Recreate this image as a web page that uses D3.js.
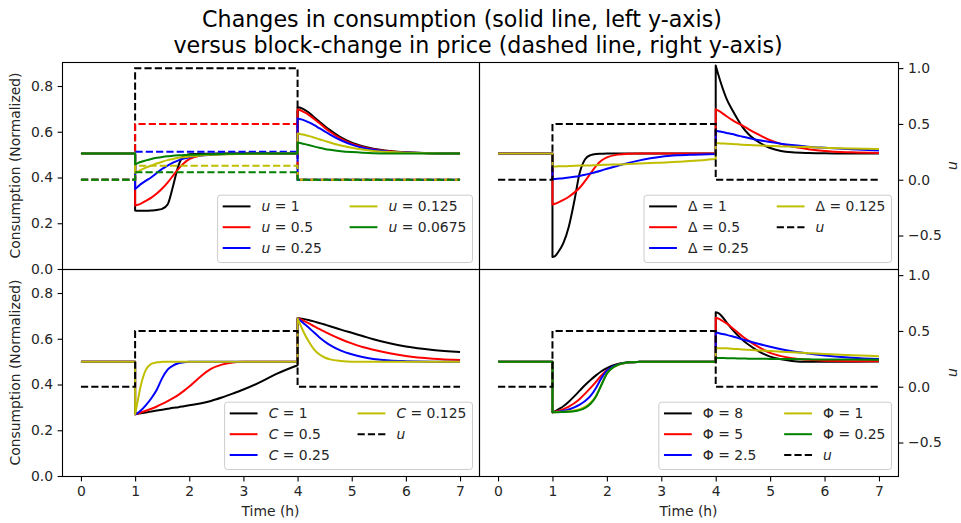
<!DOCTYPE html>
<html>
<head>
<meta charset="utf-8">
<script src="https://cdn.jsdelivr.net/npm/d3@7"></script>
<style>
  body { margin: 0; background: #fff; }
  svg { display: block; font-family: "DejaVu Sans", sans-serif; }
</style>
</head>
<body>
<svg id="fig" width="961" height="523"></svg>
<script>
// ---- time grid (a repeated time marks the jump of the price block) ----
const TIME = [
  0, 1,
  1, 1.05, 1.1, 1.2, 1.3, 1.4, 1.5, 1.6, 1.7, 1.8, 1.9, 2.0, 2.2, 2.4, 2.6, 2.8, 3.0, 3.3, 3.6, 4.0,
  4.0, 4.05, 4.1, 4.2, 4.3, 4.4, 4.5, 4.6, 4.8, 5.0, 5.2, 5.4, 5.7, 6.0, 6.5, 7.0
];

// price block: zero, raised from t=1 to t=4, zero again
const PRICE_TIME  = [0, 1, 1, 4, 4, 7];
const PRICE_BLOCK = [0, 0, 1, 1, 0, 0];

const X_TICKS = [0, 1, 2, 3, 4, 5, 6, 7];
const C_TICKS = [0, 0.2, 0.4, 0.6, 0.8];
const U_TICKS = [-0.5, 0, 0.5, 1.0];

const COLORS = ["#000000", "#ff0000", "#0000ff", "#bfbf00", "#008000"];

// ---- panel 1: size of the price block u ----
const U_LEVELS = [1, 0.5, 0.25, 0.125, 0.0675];
const U_LABELS = ["1", "0.5", "0.25", "0.125", "0.0675"];
const U_CONSUMPTION = [
  [0.505, 0.505,
   0.256, 0.255, 0.255, 0.255, 0.256, 0.258, 0.263, 0.282, 0.362, 0.452, 0.494, 0.502, 0.504, 0.504, 0.505, 0.505, 0.505, 0.505, 0.505, 0.505,
   0.707, 0.705, 0.700, 0.685, 0.665, 0.645, 0.625, 0.607, 0.575, 0.552, 0.537, 0.526, 0.516, 0.510, 0.506, 0.505],
  [0.505, 0.505,
   0.278, 0.281, 0.285, 0.298, 0.312, 0.330, 0.352, 0.378, 0.408, 0.438, 0.462, 0.480, 0.496, 0.501, 0.503, 0.504, 0.505, 0.505, 0.505, 0.505,
   0.697, 0.694, 0.688, 0.675, 0.657, 0.638, 0.618, 0.600, 0.570, 0.548, 0.534, 0.524, 0.515, 0.509, 0.506, 0.505],
  [0.505, 0.505,
   0.350, 0.360, 0.370, 0.386, 0.401, 0.420, 0.438, 0.452, 0.465, 0.475, 0.483, 0.489, 0.496, 0.500, 0.502, 0.503, 0.504, 0.505, 0.505, 0.505,
   0.658, 0.655, 0.652, 0.642, 0.630, 0.616, 0.602, 0.588, 0.563, 0.544, 0.530, 0.521, 0.513, 0.509, 0.506, 0.505],
  [0.505, 0.505,
   0.420, 0.426, 0.432, 0.443, 0.452, 0.461, 0.469, 0.476, 0.481, 0.486, 0.489, 0.492, 0.496, 0.499, 0.501, 0.502, 0.503, 0.504, 0.505, 0.505,
   0.592, 0.590, 0.588, 0.582, 0.575, 0.567, 0.560, 0.553, 0.540, 0.530, 0.522, 0.516, 0.511, 0.508, 0.506, 0.505],
  [0.505, 0.505,
   0.458, 0.463, 0.468, 0.475, 0.481, 0.486, 0.490, 0.493, 0.495, 0.497, 0.498, 0.499, 0.501, 0.502, 0.503, 0.504, 0.504, 0.505, 0.505, 0.505,
   0.553, 0.551, 0.548, 0.542, 0.536, 0.530, 0.525, 0.521, 0.515, 0.511, 0.508, 0.506, 0.505, 0.505, 0.505, 0.505]
];

// ---- panel 2: Delta ----
const DELTA_LABELS = ["1", "0.5", "0.25", "0.125"];
const DELTA_CONSUMPTION = [
  [0.505, 0.505,
   0.052, 0.057, 0.072, 0.113, 0.185, 0.295, 0.420, 0.480, 0.498, 0.503, 0.504, 0.505, 0.505, 0.505, 0.505, 0.505, 0.505, 0.505, 0.505, 0.505,
   0.890, 0.848, 0.810, 0.744, 0.697, 0.656, 0.618, 0.590, 0.553, 0.529, 0.516, 0.510, 0.507, 0.506, 0.505, 0.505],
  [0.505, 0.505,
   0.282, 0.285, 0.290, 0.302, 0.316, 0.334, 0.355, 0.385, 0.418, 0.450, 0.474, 0.488, 0.500, 0.504, 0.505, 0.505, 0.505, 0.505, 0.505, 0.505,
   0.698, 0.692, 0.685, 0.668, 0.652, 0.638, 0.626, 0.612, 0.586, 0.563, 0.547, 0.535, 0.524, 0.516, 0.510, 0.507],
  [0.505, 0.505,
   0.394, 0.394, 0.395, 0.397, 0.400, 0.403, 0.407, 0.412, 0.418, 0.424, 0.431, 0.438, 0.451, 0.464, 0.475, 0.484, 0.491, 0.497, 0.500, 0.503,
   0.605, 0.602, 0.600, 0.595, 0.590, 0.584, 0.578, 0.573, 0.563, 0.555, 0.548, 0.542, 0.535, 0.530, 0.523, 0.518],
  [0.505, 0.505,
   0.448, 0.448, 0.449, 0.449, 0.450, 0.451, 0.452, 0.452, 0.453, 0.454, 0.455, 0.456, 0.457, 0.459, 0.461, 0.463, 0.465, 0.469, 0.473, 0.481,
   0.551, 0.550, 0.549, 0.548, 0.547, 0.545, 0.543, 0.542, 0.540, 0.538, 0.536, 0.535, 0.533, 0.530, 0.527, 0.525]
];
const DELTA_PRICE = 0.5;

// ---- panel 3: C ----
const C_LABELS = ["1", "0.5", "0.25", "0.125"];
const C_CONSUMPTION = [
  [0.500, 0.500,
   0.270, 0.272, 0.274, 0.278, 0.282, 0.286, 0.290, 0.294, 0.298, 0.301, 0.305, 0.309, 0.317, 0.328, 0.343, 0.360, 0.378, 0.409, 0.445, 0.484,
   0.690, 0.689, 0.687, 0.682, 0.676, 0.669, 0.662, 0.655, 0.640, 0.626, 0.612, 0.598, 0.580, 0.566, 0.551, 0.542],
  [0.500, 0.500,
   0.270, 0.273, 0.277, 0.285, 0.294, 0.304, 0.315, 0.327, 0.340, 0.355, 0.372, 0.391, 0.433, 0.468, 0.487, 0.496, 0.499, 0.500, 0.500, 0.500,
   0.690, 0.686, 0.680, 0.668, 0.655, 0.643, 0.631, 0.619, 0.598, 0.580, 0.564, 0.552, 0.537, 0.525, 0.513, 0.507],
  [0.500, 0.500,
   0.270, 0.276, 0.285, 0.310, 0.340, 0.377, 0.428, 0.465, 0.483, 0.493, 0.497, 0.499, 0.500, 0.500, 0.500, 0.500, 0.500, 0.500, 0.500, 0.500,
   0.690, 0.680, 0.670, 0.650, 0.628, 0.607, 0.588, 0.572, 0.548, 0.532, 0.520, 0.512, 0.505, 0.502, 0.500, 0.500],
  [0.500, 0.500,
   0.270, 0.330, 0.390, 0.465, 0.490, 0.497, 0.499, 0.500, 0.500, 0.500, 0.500, 0.500, 0.500, 0.500, 0.500, 0.500, 0.500, 0.500, 0.500, 0.500,
   0.690, 0.662, 0.635, 0.590, 0.555, 0.532, 0.518, 0.510, 0.503, 0.500, 0.500, 0.500, 0.500, 0.500, 0.500, 0.500]
];
const C_PRICE = 0.5;

// ---- panel 4: Phi ----
const PHI_LABELS = ["8", "5", "2.5", "1", "0.25"];
const PHI_CONSUMPTION = [
  [0.500, 0.500,
   0.279, 0.283, 0.290, 0.305, 0.325, 0.348, 0.373, 0.398, 0.420, 0.440, 0.458, 0.472, 0.490, 0.497, 0.499, 0.500, 0.500, 0.500, 0.500, 0.500,
   0.716, 0.712, 0.702, 0.672, 0.642, 0.616, 0.594, 0.575, 0.544, 0.522, 0.510, 0.503, 0.499, 0.499, 0.500, 0.501],
  [0.500, 0.500,
   0.279, 0.281, 0.284, 0.292, 0.303, 0.318, 0.337, 0.360, 0.385, 0.412, 0.440, 0.462, 0.487, 0.496, 0.499, 0.500, 0.500, 0.500, 0.500, 0.500,
   0.692, 0.688, 0.682, 0.667, 0.648, 0.628, 0.609, 0.592, 0.562, 0.538, 0.524, 0.515, 0.508, 0.504, 0.502, 0.502],
  [0.500, 0.500,
   0.279, 0.280, 0.281, 0.285, 0.291, 0.300, 0.312, 0.328, 0.350, 0.385, 0.428, 0.460, 0.487, 0.496, 0.499, 0.500, 0.500, 0.500, 0.500, 0.500,
   0.627, 0.625, 0.622, 0.617, 0.611, 0.604, 0.597, 0.590, 0.577, 0.565, 0.554, 0.545, 0.535, 0.527, 0.517, 0.511],
  [0.500, 0.500,
   0.279, 0.279, 0.280, 0.281, 0.283, 0.286, 0.292, 0.302, 0.320, 0.350, 0.400, 0.448, 0.485, 0.496, 0.499, 0.500, 0.500, 0.500, 0.500, 0.500,
   0.560, 0.559, 0.559, 0.558, 0.556, 0.555, 0.553, 0.552, 0.549, 0.546, 0.543, 0.541, 0.537, 0.533, 0.528, 0.524],
  [0.500, 0.500,
   0.279, 0.279, 0.279, 0.280, 0.281, 0.283, 0.288, 0.298, 0.316, 0.348, 0.398, 0.447, 0.486, 0.497, 0.499, 0.500, 0.500, 0.500, 0.500, 0.500,
   0.516, 0.516, 0.516, 0.515, 0.515, 0.514, 0.514, 0.513, 0.513, 0.512, 0.511, 0.511, 0.510, 0.509, 0.509, 0.508]
];
const PHI_PRICE = 0.5;

// ---- layout ----
const W = 961, H = 523;
const COLS = [[62, 479], [479, 898]];
const ROWS = [[62, 269], [269, 476]];
const X_DOMAIN = [-0.35, 7.35];
const C_DOMAIN = [0, 0.905];
const U_DOMAIN = [-0.80, 1.055];
const FS = 13.9;          // tick / label / legend font size
const LW = 2;             // data line width
const DASH = "7.2,3.1";

const svg = d3.select("#fig");
svg.append("rect").attr("width", W).attr("height", H).attr("fill", "#fff");

// title (two lines)
const title = svg.append("text").attr("font-size", 22.2).attr("fill", "#000").attr("text-anchor", "middle");
title.append("tspan").attr("x", 462).attr("y", 27).text("Changes in consumption (solid line, left y-axis)");
title.append("tspan").attr("x", 478).attr("y", 53).text("versus block-change in price (dashed line, right y-axis)");

// consumption path: smooth runs, vertical jumps where the time repeats
function consumptionPath(times, values, x, y) {
  const runs = [];
  let cur = [];
  times.forEach((t, i) => {
    if (i > 0 && t === times[i - 1]) { runs.push(cur); cur = []; }
    cur.push([t, values[i]]);
  });
  runs.push(cur);
  const gen = d3.line().x(d => x(d[0])).y(d => y(d[1])).curve(d3.curveMonotoneX);
  return runs.map((r, k) => { const p = gen(r); return k === 0 ? p : "L" + p.slice(1); }).join("");
}

function pricePath(level, x, y) {
  const gen = d3.line().x(d => x(d[0])).y(d => y(d[1]));
  return gen(PRICE_TIME.map((t, i) => [t, PRICE_BLOCK[i] * level]));
}

const PANELS = [
  { col: 0, row: 0, symbol: "u", italic: true, labels: U_LABELS, series: U_CONSUMPTION, price: U_LEVELS, perSeriesPrice: true },
  { col: 1, row: 0, symbol: "\u0394", italic: false, labels: DELTA_LABELS, series: DELTA_CONSUMPTION, price: DELTA_PRICE },
  { col: 0, row: 1, symbol: "C", italic: true, labels: C_LABELS, series: C_CONSUMPTION, price: C_PRICE },
  { col: 1, row: 1, symbol: "\u03A6", italic: false, labels: PHI_LABELS, series: PHI_CONSUMPTION, price: PHI_PRICE }
];

PANELS.forEach((p, pi) => {
  const [x0, x1] = COLS[p.col];
  const [y0, y1] = ROWS[p.row];
  const x = d3.scaleLinear().domain(X_DOMAIN).range([x0, x1]);
  const yc = d3.scaleLinear().domain(C_DOMAIN).range([y1, y0]);
  const yu = d3.scaleLinear().domain(U_DOMAIN).range([y1, y0]);

  const clipId = "clip" + pi;
  svg.append("clipPath").attr("id", clipId)
    .append("rect").attr("x", x0).attr("y", y0).attr("width", x1 - x0).attr("height", y1 - y0);
  const plot = svg.append("g").attr("clip-path", `url(#${clipId})`);

  const legendEntries = [];
  p.series.forEach((vals, i) => {
    plot.append("path")
      .attr("d", consumptionPath(TIME, vals, x, yc))
      .attr("fill", "none").attr("stroke", COLORS[i]).attr("stroke-width", LW)
      .attr("stroke-linejoin", "round");
    if (p.perSeriesPrice) {
      plot.append("path")
        .attr("d", pricePath(p.price[i], x, yu))
        .attr("fill", "none").attr("stroke", COLORS[i]).attr("stroke-width", LW)
        .attr("stroke-dasharray", DASH);
    }
    legendEntries.push({ color: COLORS[i], dashed: false, sym: p.symbol, italic: p.italic, value: p.labels[i] });
  });
  if (!p.perSeriesPrice) {
    plot.append("path")
      .attr("d", pricePath(p.price, x, yu))
      .attr("fill", "none").attr("stroke", "#000").attr("stroke-width", LW)
      .attr("stroke-dasharray", DASH);
    legendEntries.push({ color: "#000", dashed: true, sym: "u", italic: true, value: null });
  }

  // frame
  svg.append("rect").attr("x", x0 + 0.5).attr("y", y0 + 0.5)
    .attr("width", x1 - x0).attr("height", y1 - y0)
    .attr("fill", "none").attr("stroke", "#000").attr("stroke-width", 1.1);

  // x axis on bottom row
  if (p.row === 1) {
    const ax = svg.append("g").attr("transform", `translate(0,${y1 + 0.5})`)
      .call(d3.axisBottom(x).tickValues(X_TICKS).tickSize(4.9).tickPadding(4.6).tickFormat(d3.format("d")));
    ax.select(".domain").remove();
    ax.selectAll("text").attr("font-size", FS).attr("font-family", "DejaVu Sans").attr("fill", "#262626");
    ax.selectAll("line").attr("stroke", "#000").attr("stroke-width", 1.1);
    svg.append("text").attr("x", (x0 + x1) / 2).attr("y", 515.5).attr("text-anchor", "middle")
      .attr("font-size", FS).attr("fill", "#262626").text("Time (h)");
  }

  if (p.col === 0) {
    const ay = svg.append("g").attr("transform", `translate(${x0 + 0.5},0)`)
      .call(d3.axisLeft(yc).tickValues(C_TICKS).tickSize(4.9).tickPadding(4.6).tickFormat(d3.format(".1f")));
    ay.select(".domain").remove();
    ay.selectAll("text").attr("font-size", FS).attr("font-family", "DejaVu Sans").attr("fill", "#262626");
    ay.selectAll("line").attr("stroke", "#000").attr("stroke-width", 1.1);
    svg.append("text")
      .attr("transform", `translate(20,${(y0 + y1) / 2}) rotate(-90)`)
      .attr("text-anchor", "middle").attr("font-size", FS).attr("fill", "#262626")
      .text("Consumption (Normalized)");
  } else {
    const ay = svg.append("g").attr("transform", `translate(${x1 + 0.5},0)`)
      .call(d3.axisRight(yu).tickValues(U_TICKS).tickSize(4.9).tickPadding(4.6)
        .tickFormat(d => d3.format(".1f")(d).replace("-", "\u2212")));
    ay.select(".domain").remove();
    ay.selectAll("text").attr("font-size", FS).attr("font-family", "DejaVu Sans").attr("fill", "#262626");
    ay.selectAll("line").attr("stroke", "#000").attr("stroke-width", 1.1);
    svg.append("text")
      .attr("transform", `translate(957,${(y0 + y1) / 2}) rotate(-90)`)
      .attr("text-anchor", "middle").attr("font-size", FS).attr("font-style", "italic").attr("fill", "#262626")
      .text("u");
  }

  drawLegend(legendEntries, x1 - 7, y1 - 7);
});

function drawLegend(entries, right, bottom) {
  const pad = 5.6, hl = 27.8, htp = 11.1, cs = 27.8, rowGap = 20.8, firstRow = 11.7, boxH = 67.3;
  const nrow = Math.ceil(entries.length / 2);
  const cols = [entries.slice(0, nrow), entries.slice(nrow)];
  const g = svg.append("g");
  const box = g.append("rect").attr("rx", 2.8).attr("ry", 2.8)
    .attr("fill", "#fff").attr("fill-opacity", 0.8).attr("stroke", "#cccccc").attr("stroke-width", 1);
  let cx = pad;
  cols.forEach((col, ci) => {
    let maxW = 0;
    col.forEach((e, r) => {
      const yy = firstRow + r * rowGap;
      g.append("line").attr("x1", cx).attr("x2", cx + hl).attr("y1", yy).attr("y2", yy)
        .attr("stroke", e.color).attr("stroke-width", LW)
        .attr("stroke-dasharray", e.dashed ? DASH : null);
      const t = g.append("text").attr("x", cx + hl + htp).attr("y", yy + 4.9)
        .attr("font-size", FS).attr("fill", "#262626");
      t.append("tspan").attr("font-style", e.italic ? "italic" : "normal").text(e.sym);
      if (e.value !== null) t.append("tspan").text(" = " + e.value);
      maxW = Math.max(maxW, t.node().getComputedTextLength());
    });
    cx += hl + htp + maxW + (ci === 0 ? cs : pad);
  });
  const boxW = cx;
  box.attr("x", 0.5).attr("y", 0.5).attr("width", boxW).attr("height", boxH);
  g.attr("transform", `translate(${right - boxW},${bottom - boxH})`);
}
</script>
</body>
</html>
